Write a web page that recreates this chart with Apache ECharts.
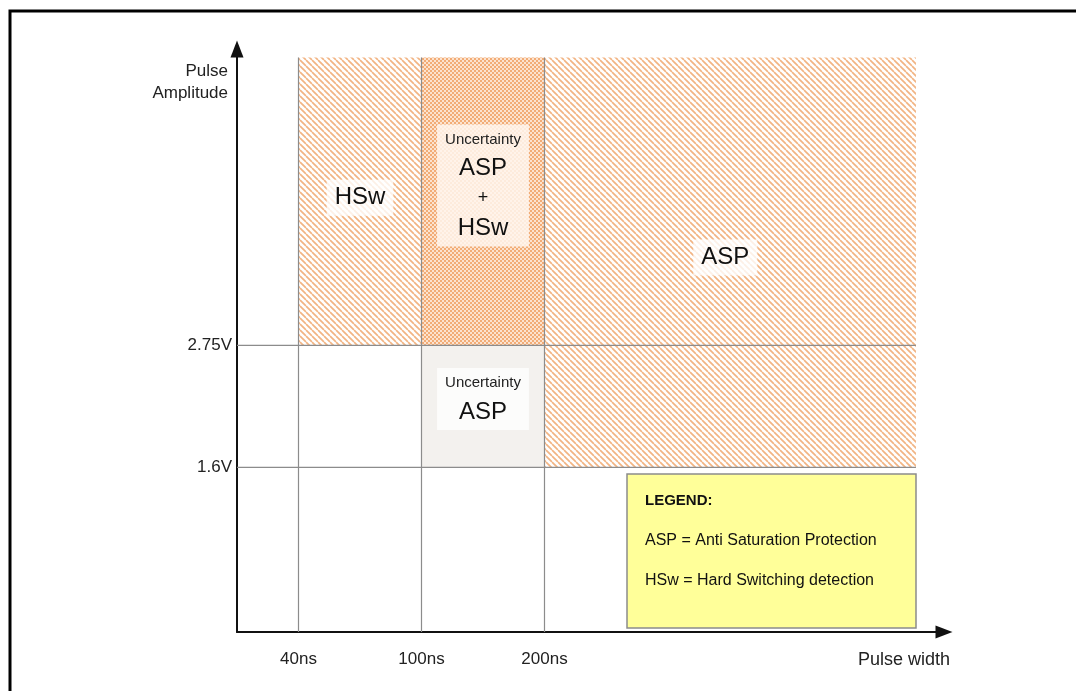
<!DOCTYPE html>
<html><head><meta charset="utf-8">
<script src="https://cdn.jsdelivr.net/npm/echarts@6/dist/echarts.min.js"></script>
<style>html,body{margin:0;padding:0;background:#fff}#c{width:1076px;height:691px}</style>
</head><body><div id="c"></div>
<script>
// ---- data ----
const xTickPos = [0.5, 1.5, 2.5];
const xTickLabels = ['40ns', '100ns', '200ns'];
const yTickPos = [1.35, 2.35];
const yTickLabels = ['1.6V', '2.75V'];
const xEnd = 5.52;   // right end of the zones
const yTop = 4.71;   // top of the zones
const regionX0 = [0.5, 1.5, 2.5, 1.5];
const regionX1 = [1.5, 2.5, 5.52, 2.5];
const regionY0 = [2.35, 2.35, 1.35, 1.35];
const regionY1 = [4.71, 4.71, 4.71, 2.35];
const regionFill = ['hatch', 'dense', 'hatch', 'light'];
const regionText = ['HSw', 'Uncertainty\nASP\n+\nHSw', 'ASP', 'Uncertainty\nASP'];
const regionTextX = [1.0, 2.0, 3.97, 2.0];
const regionTextY = [3.56, 3.66, 3.07, 1.91];
const legendLines = ['LEGEND:', 'ASP = Anti Saturation Protection', 'HSw = Hard Switching detection'];

const FONT = '"Liberation Sans", Arial, Helvetica, sans-serif';

function hatchCanvas() {
  const n = 6;
  const c = document.createElement('canvas'); c.width = n; c.height = n;
  const g = c.getContext('2d');
  g.fillStyle = '#ffffff'; g.fillRect(0, 0, n, n);
  g.strokeStyle = '#f2b483'; g.lineWidth = 1.7;
  for (const k of [-n, 0, n]) { g.beginPath(); g.moveTo(k, 0); g.lineTo(k + n, n); g.stroke(); }
  return c;
}
function denseCanvas() {
  const c = document.createElement('canvas'); c.width = 4; c.height = 4;
  const g = c.getContext('2d');
  g.fillStyle = '#fce3cf'; g.fillRect(0, 0, 4, 4);
  g.fillStyle = '#f2ac76';
  g.fillRect(0, 0, 2, 2); g.fillRect(2, 2, 2, 2);
  return c;
}
const fills = {
  hatch: { image: hatchCanvas(), repeat: 'repeat' },
  dense: { image: denseCanvas(), repeat: 'repeat' },
  light: '#f3f1ee'
};
const haloColors = ['rgba(255,255,255,0.8)', 'rgba(255,246,238,0.85)', 'rgba(255,255,255,0.8)', 'rgba(255,255,255,0.75)'];

function richText(t) {
  return t.split('\n').map(l => l === 'Uncertainty' ? '{s|' + l + '}' : (l === '+' ? '{p|' + l + '}' : '{b|' + l + '}')).join('\n');
}
function tickLabel(pos, labels, v) {
  const i = pos.findIndex(p => Math.abs(p - v) < 1e-6);
  return i >= 0 ? labels[i] : '';
}

const chart = echarts.init(document.getElementById('c'), null, { renderer: 'canvas' });
chart.setOption({
  animation: false,
  backgroundColor: '#ffffff',
  textStyle: { fontFamily: FONT },
  grid: { left: 237, top: 49, right: 132, bottom: 59, containLabel: false },
  xAxis: {
    type: 'value', min: 0, max: 5.748,
    axisLine: { show: true, onZero: false, symbol: ['none', 'triangle'], symbolSize: [13, 17], lineStyle: { color: '#111', width: 2 } },
    axisTick: { show: false }, splitLine: { show: false },
    axisLabel: { customValues: xTickPos, formatter: v => tickLabel(xTickPos, xTickLabels, v), margin: 19, fontSize: 17, color: '#222', fontFamily: FONT },
    name: 'Pulse width', nameLocation: 'end', nameGap: 6,
    nameTextStyle: { align: 'right', verticalAlign: 'top', padding: [19, 0, 0, 0], fontSize: 18, color: '#222', fontFamily: FONT }
  },
  yAxis: {
    type: 'value', min: 0, max: 4.779,
    axisLine: { show: true, onZero: false, symbol: ['none', 'triangle'], symbolSize: [13, 17], lineStyle: { color: '#111', width: 2 } },
    axisTick: { show: false }, splitLine: { show: false },
    axisLabel: { customValues: yTickPos, formatter: v => tickLabel(yTickPos, yTickLabels, v), margin: 5, fontSize: 17, color: '#222', fontFamily: FONT },
    name: 'Pulse\nAmplitude', nameLocation: 'end', nameGap: 0,
    nameTextStyle: { align: 'right', verticalAlign: 'top', padding: [11, 9, 0, 0], lineHeight: 22, fontSize: 17, color: '#222', fontFamily: FONT }
  },
  series: [
    {
      type: 'custom', silent: true, z: 1,
      data: regionX0.map((x, i) => [x, regionY0[i], regionX1[i], regionY1[i]]),
      renderItem(params, api) {
        const i = params.dataIndex;
        const p0 = api.coord([api.value(0), api.value(3)]);
        const p1 = api.coord([api.value(2), api.value(1)]);
        return { type: 'rect', shape: { x: p0[0], y: p0[1], width: p1[0] - p0[0], height: p1[1] - p0[1] }, style: { fill: fills[regionFill[i]] } };
      }
    },
    {
      type: 'custom', silent: true, z: 2,
      data: xTickPos.map(x => [x, 0, x, yTop]).concat(yTickPos.map(y => [0, y, xEnd, y])),
      renderItem(params, api) {
        const a = api.coord([api.value(0), api.value(1)]);
        const b = api.coord([api.value(2), api.value(3)]);
        return { type: 'line', shape: { x1: a[0], y1: a[1], x2: b[0], y2: b[1] }, style: { stroke: '#8c8c8c', lineWidth: 1.2 } };
      }
    },
    {
      type: 'custom', silent: true, z: 3,
      data: regionText.map((t, i) => [regionTextX[i], regionTextY[i]]),
      renderItem(params, api) {
        const i = params.dataIndex;
        const p = api.coord([api.value(0), api.value(1)]);
        return {
          type: 'text', x: p[0], y: p[1],
          style: {
            text: richText(regionText[i]), align: 'center', verticalAlign: 'middle',
            fill: '#1a1a1a', fontFamily: FONT,
            backgroundColor: haloColors[i], padding: [2, 8],
            rich: {
              s: { fontSize: 15, lineHeight: 26, fill: '#222', fontFamily: FONT },
              b: { fontSize: 24, lineHeight: 32, fill: '#111', fontFamily: FONT },
              p: { fontSize: 18, lineHeight: 28, fill: '#111', fontFamily: FONT }
            }
          }
        };
      }
    }
  ],
  graphic: [
    { type: 'rect', silent: true, shape: { x: 10, y: 11, width: 1200, height: 1000 }, style: { fill: null, stroke: '#000', lineWidth: 3 } },
    { type: 'rect', silent: true, z: 10, shape: { x: 627, y: 474, width: 289, height: 154 }, style: { fill: '#ffff99', stroke: '#8c8c8c', lineWidth: 1.5 } },
    { type: 'text', silent: true, z: 11, x: 645, y: 501, style: { text: legendLines[0], fontSize: 15, fontWeight: 'bold', fill: '#111', fontFamily: FONT, verticalAlign: 'middle' } },
    { type: 'text', silent: true, z: 11, x: 645, y: 541, style: { text: legendLines[1], fontSize: 16, fill: '#111', fontFamily: FONT, verticalAlign: 'middle' } },
    { type: 'text', silent: true, z: 11, x: 645, y: 581, style: { text: legendLines[2], fontSize: 16, fill: '#111', fontFamily: FONT, verticalAlign: 'middle' } }
  ]
});
</script>
</body></html>
